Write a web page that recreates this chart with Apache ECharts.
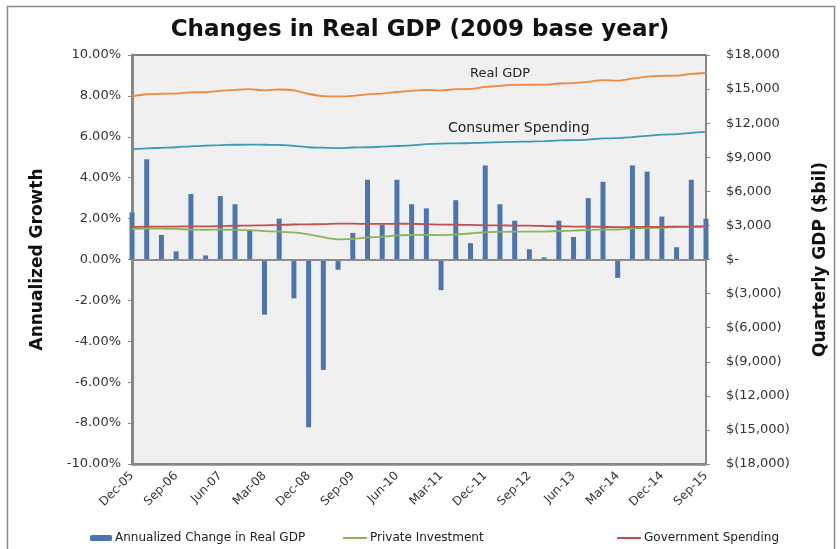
<!DOCTYPE html>
<html>
<head>
<meta charset="utf-8">
<title>Changes in Real GDP</title>
<script src="https://cdn.jsdelivr.net/npm/echarts@6/dist/echarts.min.js"></script>
<style>
  html, body { margin: 0; padding: 0; background: #fff; }
  #lineAnalysis { width: 840px; height: 549px; }
</style>
</head>
<body>
<div id="lineAnalysis"></div>
<script>
// quarters, Dec-05 .. Sep-15
var quarters = ['Dec-05', 'Mar-06', 'Jun-06', 'Sep-06', 'Dec-06', 'Mar-07', 'Jun-07', 'Sep-07',
  'Dec-07', 'Mar-08', 'Jun-08', 'Sep-08', 'Dec-08', 'Mar-09', 'Jun-09', 'Sep-09',
  'Dec-09', 'Mar-10', 'Jun-10', 'Sep-10', 'Dec-10', 'Mar-11', 'Jun-11', 'Sep-11',
  'Dec-11', 'Mar-12', 'Jun-12', 'Sep-12', 'Dec-12', 'Mar-13', 'Jun-13', 'Sep-13',
  'Dec-13', 'Mar-14', 'Jun-14', 'Sep-14', 'Dec-14', 'Mar-15', 'Jun-15', 'Sep-15']

// annualized change in real GDP (%)
var gdpChange = [2.3, 4.9, 1.2, 0.4, 3.2, 0.2, 3.1, 2.7, 1.4, -2.7, 2.0, -1.9, -8.2, -5.4, -0.5, 1.3,
  3.9, 1.7, 3.9, 2.7, 2.5, -1.5, 2.9, 0.8, 4.6, 2.7, 1.9, 0.5, 0.1, 1.9, 1.1, 3.0,
  3.8, -0.9, 4.6, 4.3, 2.1, 0.6, 3.9, 2.0]

// quarterly levels, $bil
var realGdp = [14372, 14546, 14589, 14602, 14716, 14727, 14839, 14938, 14991, 14890, 14963, 14891,
  14577, 14375, 14356, 14402, 14541, 14605, 14745, 14845, 14939, 14882, 14989, 15021,
  15191, 15291, 15362, 15381, 15384, 15491, 15521, 15641, 15793, 15748, 15926, 16093,
  16169, 16178, 16334, 16414]
var consumerSpending = [9700, 9780, 9830, 9880, 9960, 10030, 10060, 10100, 10120, 10100, 10090, 10000,
  9880, 9840, 9800, 9860, 9880, 9930, 9990, 10050, 10150, 10200, 10220, 10250,
  10280, 10340, 10360, 10380, 10420, 10480, 10510, 10560, 10660, 10680, 10780, 10880,
  10990, 11040, 11150, 11230]
var privateInvestment = [2700, 2730, 2710, 2690, 2630, 2620, 2640, 2600, 2580, 2500, 2450, 2380,
  2210, 1960, 1780, 1810, 1940, 2000, 2120, 2160, 2170, 2140, 2200, 2290,
  2400, 2430, 2450, 2450, 2460, 2510, 2540, 2610, 2630, 2640, 2740, 2770,
  2790, 2850, 2870, 2900]
var governmentSpending = [2870, 2890, 2890, 2900, 2920, 2920, 2940, 2970, 2990, 3010, 3040, 3080,
  3100, 3110, 3150, 3150, 3130, 3130, 3150, 3140, 3110, 3070, 3060, 3040,
  3010, 3000, 2990, 2990, 2950, 2920, 2900, 2890, 2870, 2850, 2860, 2880,
  2880, 2890, 2900, 2910]

var font = 'DejaVu Sans'

function dollars(v) {
  if (v === 0) return '$-'
  var s = String(Math.abs(v)).replace(/\B(?=(\d{3})+(?!\d))/g, ',')
  return v < 0 ? '$(' + s + ')' : '$' + s
}

var myChart = echarts.init(document.getElementById('lineAnalysis'))

var option = {
  backgroundColor: '#fff',
  animation: false,
  textStyle: { fontFamily: font },
  title: {
    text: 'Changes in Real GDP (2009 base year)',
    left: 'center',
    top: 14,
    textStyle: { fontFamily: font, fontSize: 23, fontWeight: 'bold', color: '#111' }
  },
  graphic: [
    {
      type: 'rect', left: 5, top: 4, silent: true,
      shape: { width: 827, height: 560 },
      style: { fill: null, stroke: '#8a8a8a', lineWidth: 1.5 }
    },
    {
      type: 'text', left: 470, top: 67,
      style: { text: 'Real GDP', fontFamily: font, fontSize: 13, fill: '#222' }
    },
    {
      type: 'text', left: 448, top: 121,
      style: { text: 'Consumer Spending', fontFamily: font, fontSize: 14, fill: '#222' }
    }
  ],
  legend: [
    {
      data: ['Annualized Change in Real GDP'],
      left: 85, top: 527, itemWidth: 22, itemHeight: 6, itemGap: 4,
      textStyle: { fontSize: 12, color: '#222', padding: [0, 0, 0, -2] }
    },
    {
      data: ['Private Investment'],
      left: 338, top: 527, itemWidth: 24, itemHeight: 2, icon: 'rect',
      textStyle: { fontSize: 12, color: '#222', padding: [0, 0, 0, -2] }
    },
    {
      data: ['Government Spending'],
      left: 612, top: 527, itemWidth: 24, itemHeight: 2, icon: 'rect',
      textStyle: { fontSize: 12, color: '#222', padding: [0, 0, 0, -2] }
    }
  ],
  grid: {
    left: 132, right: 134, top: 55, bottom: 85,
    show: true, backgroundColor: '#f0f0f0', borderColor: '#555', borderWidth: 1.5
  },
  xAxis: {
    type: 'category',
    data: quarters,
    boundaryGap: false,
    axisLine: { onZero: false, lineStyle: { color: '#888', width: 2.5 } },
    axisTick: { show: false },
    axisLabel: { interval: 2, rotate: 45, fontSize: 12, color: '#333', margin: 10 }
  },
  yAxis: [
    {
      type: 'value',
      min: -10, max: 10, interval: 2,
      name: 'Annualized Growth',
      nameLocation: 'middle',
      nameGap: 86,
      nameTextStyle: { fontFamily: font, fontSize: 17, fontWeight: 'bold', color: '#111' },
      axisLine: { show: true, lineStyle: { color: '#888', width: 3 } },
      axisTick: { show: true, length: 4, lineStyle: { color: '#888' } },
      splitLine: { show: false },
      axisLabel: {
        fontSize: 13, color: '#333', margin: 11,
        formatter: function (v) { return v.toFixed(2) + '%' }
      }
    },
    {
      type: 'value',
      min: -18000, max: 18000, interval: 3000,
      name: 'Quarterly GDP ($bil)',
      nameLocation: 'middle',
      nameGap: 106,
      nameTextStyle: { fontFamily: font, fontSize: 17, fontWeight: 'bold', color: '#111' },
      axisLine: { show: true, lineStyle: { color: '#888', width: 2 } },
      axisTick: { show: true, length: 4, lineStyle: { color: '#888' } },
      splitLine: { show: false },
      axisLabel: { fontSize: 13, color: '#333', margin: 20, formatter: dollars }
    }
  ],
  series: [
    {
      name: 'Annualized Change in Real GDP',
      type: 'bar',
      data: gdpChange,
      barWidth: 5,
      itemStyle: { color: '#4a76ad' },
      markLine: {
        silent: true, symbol: 'none', label: { show: false },
        lineStyle: { color: '#8c8c8c', width: 2, type: 'solid' },
        data: [{ yAxis: 0 }]
      }
    },
    {
      name: 'Real GDP', type: 'line', yAxisIndex: 1, data: realGdp,
      smooth: 0.3, showSymbol: false, lineStyle: { color: '#f0883e', width: 1.8 }, itemStyle: { color: '#f0883e' }
    },
    {
      name: 'Consumer Spending', type: 'line', yAxisIndex: 1, data: consumerSpending,
      smooth: 0.3, showSymbol: false, lineStyle: { color: '#3d9cb5', width: 1.8 }, itemStyle: { color: '#3d9cb5' }
    },
    {
      name: 'Private Investment', type: 'line', yAxisIndex: 1, data: privateInvestment,
      smooth: 0.3, showSymbol: false, lineStyle: { color: '#8db359', width: 1.8 }, itemStyle: { color: '#8db359' }
    },
    {
      name: 'Government Spending', type: 'line', yAxisIndex: 1, data: governmentSpending,
      smooth: 0.3, showSymbol: false, lineStyle: { color: '#c0504d', width: 1.8 }, itemStyle: { color: '#c0504d' }
    }
  ]
}

myChart.setOption(option)
</script>
</body>
</html>
